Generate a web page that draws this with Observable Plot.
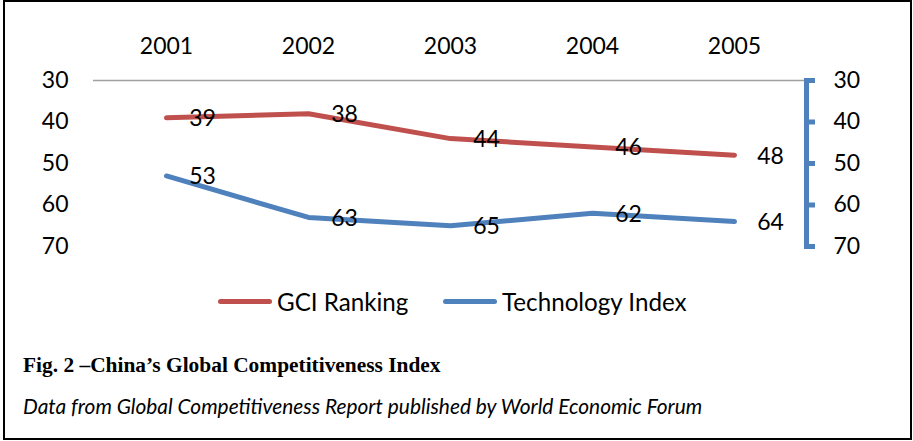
<!DOCTYPE html>
<html>
<head>
<meta charset="utf-8">
<script src="https://cdn.jsdelivr.net/npm/d3@7"></script>
<script src="https://cdn.jsdelivr.net/npm/@observablehq/plot@0.6"></script>
<style>
  html, body { margin: 0; padding: 0; background: #fff; }
  #wrap { position: relative; width: 913px; height: 441px; overflow: hidden; font-family: Lato, "Open Sans", sans-serif; }
  #border { position: absolute; left: 3px; top: 0px; width: 905px; height: 436px; border: 2px solid #000; }
  #chart { position: absolute; left: 0; top: 0; }
  .leg { position: absolute; top: 287px; height: 28px; display: flex; align-items: center; font-size: 24.2px; color: #000; }
  .sw { width: 54px; height: 5px; border-radius: 3px; margin-right: 5px; }
  #title { position: absolute; left: 23px; top: 353px; font-family: "Liberation Serif", "Times New Roman", serif; font-weight: bold; font-size: 21.4px; color: #000; white-space: nowrap; }
  #caption { position: absolute; left: 23px; top: 393px; font-style: italic; font-size: 20.9px; color: #000; white-space: nowrap; }
</style>
</head>
<body>
<div id="wrap">
  <div id="border"></div>
  <div id="chart"></div>
  <div id="legend"></div>
  <div id="title"></div>
  <div id="caption"></div>
</div>
<script>
const years = ["2001", "2002", "2003", "2004", "2005"];
const gciRanking = [39, 38, 44, 46, 48];
const technologyIndex = [53, 63, 65, 62, 64];
const yTicks = [30, 40, 50, 60, 70];
const seriesNames = ["GCI Ranking", "Technology Index"];
const seriesColors = ["#C0504D", "#4F81BD"];
const titleText = "Fig. 2 \u2013China\u2019s Global Competitiveness Index";
const captionText = "Data from Global Competitiveness Report published by World Economic Forum";

const rows = [
  ...years.map((y, i) => ({year: y, value: gciRanking[i], series: seriesNames[0]})),
  ...years.map((y, i) => ({year: y, value: technologyIndex[i], series: seriesNames[1]}))
];

const chart = Plot.plot({
  width: 913,
  height: 270,
  marginLeft: 93,
  marginRight: 107,
  marginTop: 80,
  marginBottom: 24,
  x: {type: "band", domain: years, padding: 0, label: null},
  y: {domain: [30, 70], reverse: true, label: null},
  color: {domain: seriesNames, range: seriesColors},
  style: {fontFamily: "Lato, 'Open Sans', sans-serif", fontSize: "23px", background: "transparent", color: "#000"},
  marks: [
    Plot.ruleY([30], {stroke: "#A0A0A0", strokeWidth: 1.5}),
    Plot.frame({anchor: "right", stroke: seriesColors[1], strokeWidth: 5, strokeLinecap: "square"}),
    Plot.axisY(yTicks, {anchor: "left", tickSize: 0, tickPadding: 25, fontSize: 23, fill: "#000", label: null}),
    Plot.axisY(yTicks, {anchor: "right", tickSize: 8, tickPadding: 19, stroke: seriesColors[1], strokeWidth: 5, fontSize: 23, fill: "#000", textAnchor: "start", label: null}),
    Plot.axisX(years, {anchor: "top", tickSize: 0, tickPadding: 27, fontSize: 23, fill: "#000", label: null}),
    Plot.line(rows, {x: "year", y: "value", z: "series", stroke: "series", strokeWidth: 5, strokeLinecap: "round", strokeLinejoin: "round"}),
    Plot.text(rows, {x: "year", y: "value", text: "value", dx: 36, dy: 1, fontSize: 23, fill: "#000"})
  ]
});
document.getElementById("chart").appendChild(chart);

const legend = document.getElementById("legend");
const legendLefts = [218, 443];
seriesNames.forEach((name, i) => {
  const item = document.createElement("div");
  item.className = "leg";
  item.style.left = legendLefts[i] + "px";
  const sw = document.createElement("div");
  sw.className = "sw";
  sw.style.background = seriesColors[i];
  const tx = document.createElement("span");
  tx.textContent = name;
  item.appendChild(sw);
  item.appendChild(tx);
  legend.appendChild(item);
});
document.getElementById("title").textContent = titleText;
document.getElementById("caption").textContent = captionText;
</script>
</body>
</html>
